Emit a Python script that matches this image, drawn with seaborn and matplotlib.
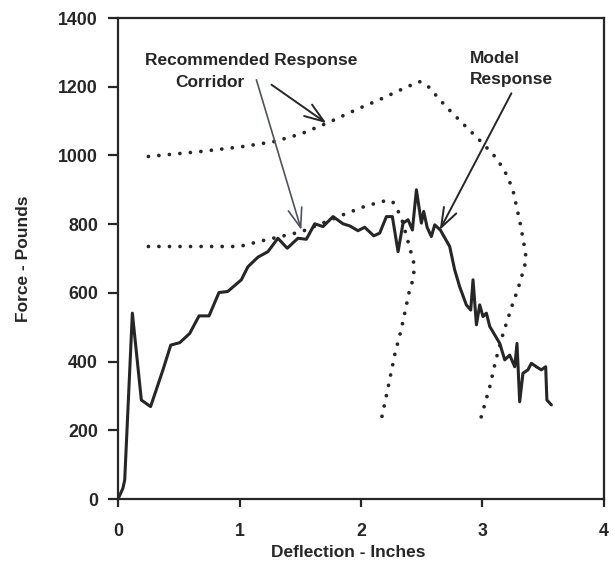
import matplotlib
matplotlib.use("Agg")
import matplotlib.pyplot as plt
import seaborn as sns
import pandas as pd

# Measured model response: force (lb) against deflection (in)
model_defl = [0, 0.04, 0.055, 0.118, 0.192, 0.268, 0.37, 0.434, 0.508, 0.59,
              0.667, 0.749, 0.831, 0.903, 1.015, 1.069, 1.152, 1.234, 1.316, 1.393,
              1.481, 1.55, 1.619, 1.687, 1.77, 1.852, 1.907, 1.975, 2.03, 2.105,
              2.154, 2.209, 2.258, 2.305, 2.346, 2.387, 2.423, 2.456, 2.497, 2.516,
              2.545, 2.579, 2.607, 2.653, 2.73, 2.771, 2.812, 2.867, 2.903, 2.922,
              2.95, 2.977, 3.004, 3.032, 3.06, 3.142, 3.183, 3.224, 3.265, 3.284,
              3.306, 3.333, 3.374, 3.402, 3.443, 3.484, 3.52, 3.53, 3.567]
model_force = [0, 31, 55, 541, 288, 269, 376, 448, 455, 482,
               533, 533, 601, 604, 638, 676, 704, 720, 759, 730,
               759, 756, 801, 793, 822, 801, 795, 781, 791, 766,
               774, 822, 822, 720, 803, 813, 783, 900, 803, 837,
               790, 764, 798, 783, 735, 667, 618, 565, 550, 638,
               507, 565, 531, 541, 502, 453, 405, 419, 385, 453,
               283, 366, 376, 395, 385, 376, 385, 288, 274]

# Upper bound of the recommended response corridor
upper_defl = [0.25, 0.67, 1.03, 1.28, 1.5, 1.72, 1.99, 2.15, 2.35, 2.48,
              2.54, 2.70, 2.86, 3.0, 3.12, 3.20, 3.25, 3.31, 3.35, 3.36,
              3.33, 3.29, 3.25, 3.17, 3.11, 3.06, 2.97]
upper_force = [997, 1011, 1026, 1040, 1062, 1094, 1138, 1162, 1195, 1215,
               1206, 1142, 1085, 1036, 990, 943, 900, 803, 725, 696,
               657, 609, 570, 482, 405, 327, 215]

# Lower bound of the recommended response corridor
lower_defl = [0.25, 0.6, 1.0, 1.19, 1.51, 1.85, 2.04, 2.21, 2.26, 2.33,
              2.41, 2.44, 2.43, 2.40, 2.36, 2.33, 2.28, 2.22, 2.155]
lower_force = [735, 735, 735, 752, 778, 827, 853, 869, 866, 822,
               720, 680, 640, 609, 541, 492, 424, 320, 211]

x_ticks = [0, 1, 2, 3, 4]
y_ticks = [0, 200, 400, 600, 800, 1000, 1200, 1400]

sns.set_theme(style="ticks")
plt.rcParams["font.family"] = ["Liberation Sans", "DejaVu Sans"]
plt.rcParams["font.weight"] = "bold"

ink = "#262626"
fig = plt.figure(figsize=(6.15, 5.65), dpi=100)
ax = fig.add_axes([0.1919, 0.1168, 0.7902, 0.8513])

model = pd.DataFrame({"defl": model_defl, "force": model_force})
upper = pd.DataFrame({"defl": upper_defl, "force": upper_force})
lower = pd.DataFrame({"defl": lower_defl, "force": lower_force})

sns.lineplot(data=model, x="defl", y="force", sort=False, estimator=None,
             color=ink, lw=2.2, ax=ax)
for corridor in (upper, lower):
    sns.lineplot(data=corridor, x="defl", y="force", sort=False, estimator=None,
                 color=ink, lw=2.7, ax=ax,
                 linestyle=(0, (0.01, 2.8)), dash_capstyle="round")

ax.set_xlim(0, 4)
ax.set_ylim(0, 1400)
ax.set_xticks(x_ticks)
ax.set_yticks(y_ticks)
ax.tick_params(axis="both", labelsize=12.8, colors=ink, width=1.6)
ax.tick_params(axis="y", length=7.5, pad=7)
ax.tick_params(axis="x", length=6, pad=11)
for lab in ax.get_xticklabels() + ax.get_yticklabels():
    lab.set_fontweight("bold")
for sp in ax.spines.values():
    sp.set_visible(True)
    sp.set_color(ink)
    sp.set_linewidth(1.6)

ax.set_xlabel("Deflection - Inches", fontsize=12.5, fontweight="bold", color=ink)
ax.set_ylabel("Force - Pounds", fontsize=12.5, fontweight="bold", color=ink)
ax.xaxis.set_label_coords(0.473, -0.112)
ax.xaxis.label.set_va("center")
ax.yaxis.set_label_coords(-0.195, 0.5)
ax.yaxis.label.set_va("center")

# Callout labels
txt = dict(fontsize=12.5, fontweight="bold", color=ink, va="center")
ax.text(1.10, 1275, "Recommended Response", ha="center", **txt)
ax.text(0.755, 1211, "Corridor", ha="center", **txt)
ax.text(2.894, 1281, "Model", ha="left", **txt)
ax.text(2.894, 1220, "Response", ha="left", **txt)

head = "->,head_length=0.7,head_width=0.25"
ax.annotate("", xy=(1.715, 1094), xytext=(1.263, 1206),
            arrowprops=dict(arrowstyle=head, color=ink, lw=1.4, mutation_scale=20,
                            shrinkA=0, shrinkB=0))
ax.annotate("", xy=(1.509, 783), xytext=(1.139, 1220),
            arrowprops=dict(arrowstyle=head, color="#4d525e", lw=1.2, mutation_scale=20,
                            shrinkA=0, shrinkB=0))
ax.annotate("", xy=(2.648, 783), xytext=(3.238, 1181),
            arrowprops=dict(arrowstyle=head, color=ink, lw=1.4, mutation_scale=20,
                            shrinkA=0, shrinkB=0))

fig.savefig("out.png", dpi=100)
